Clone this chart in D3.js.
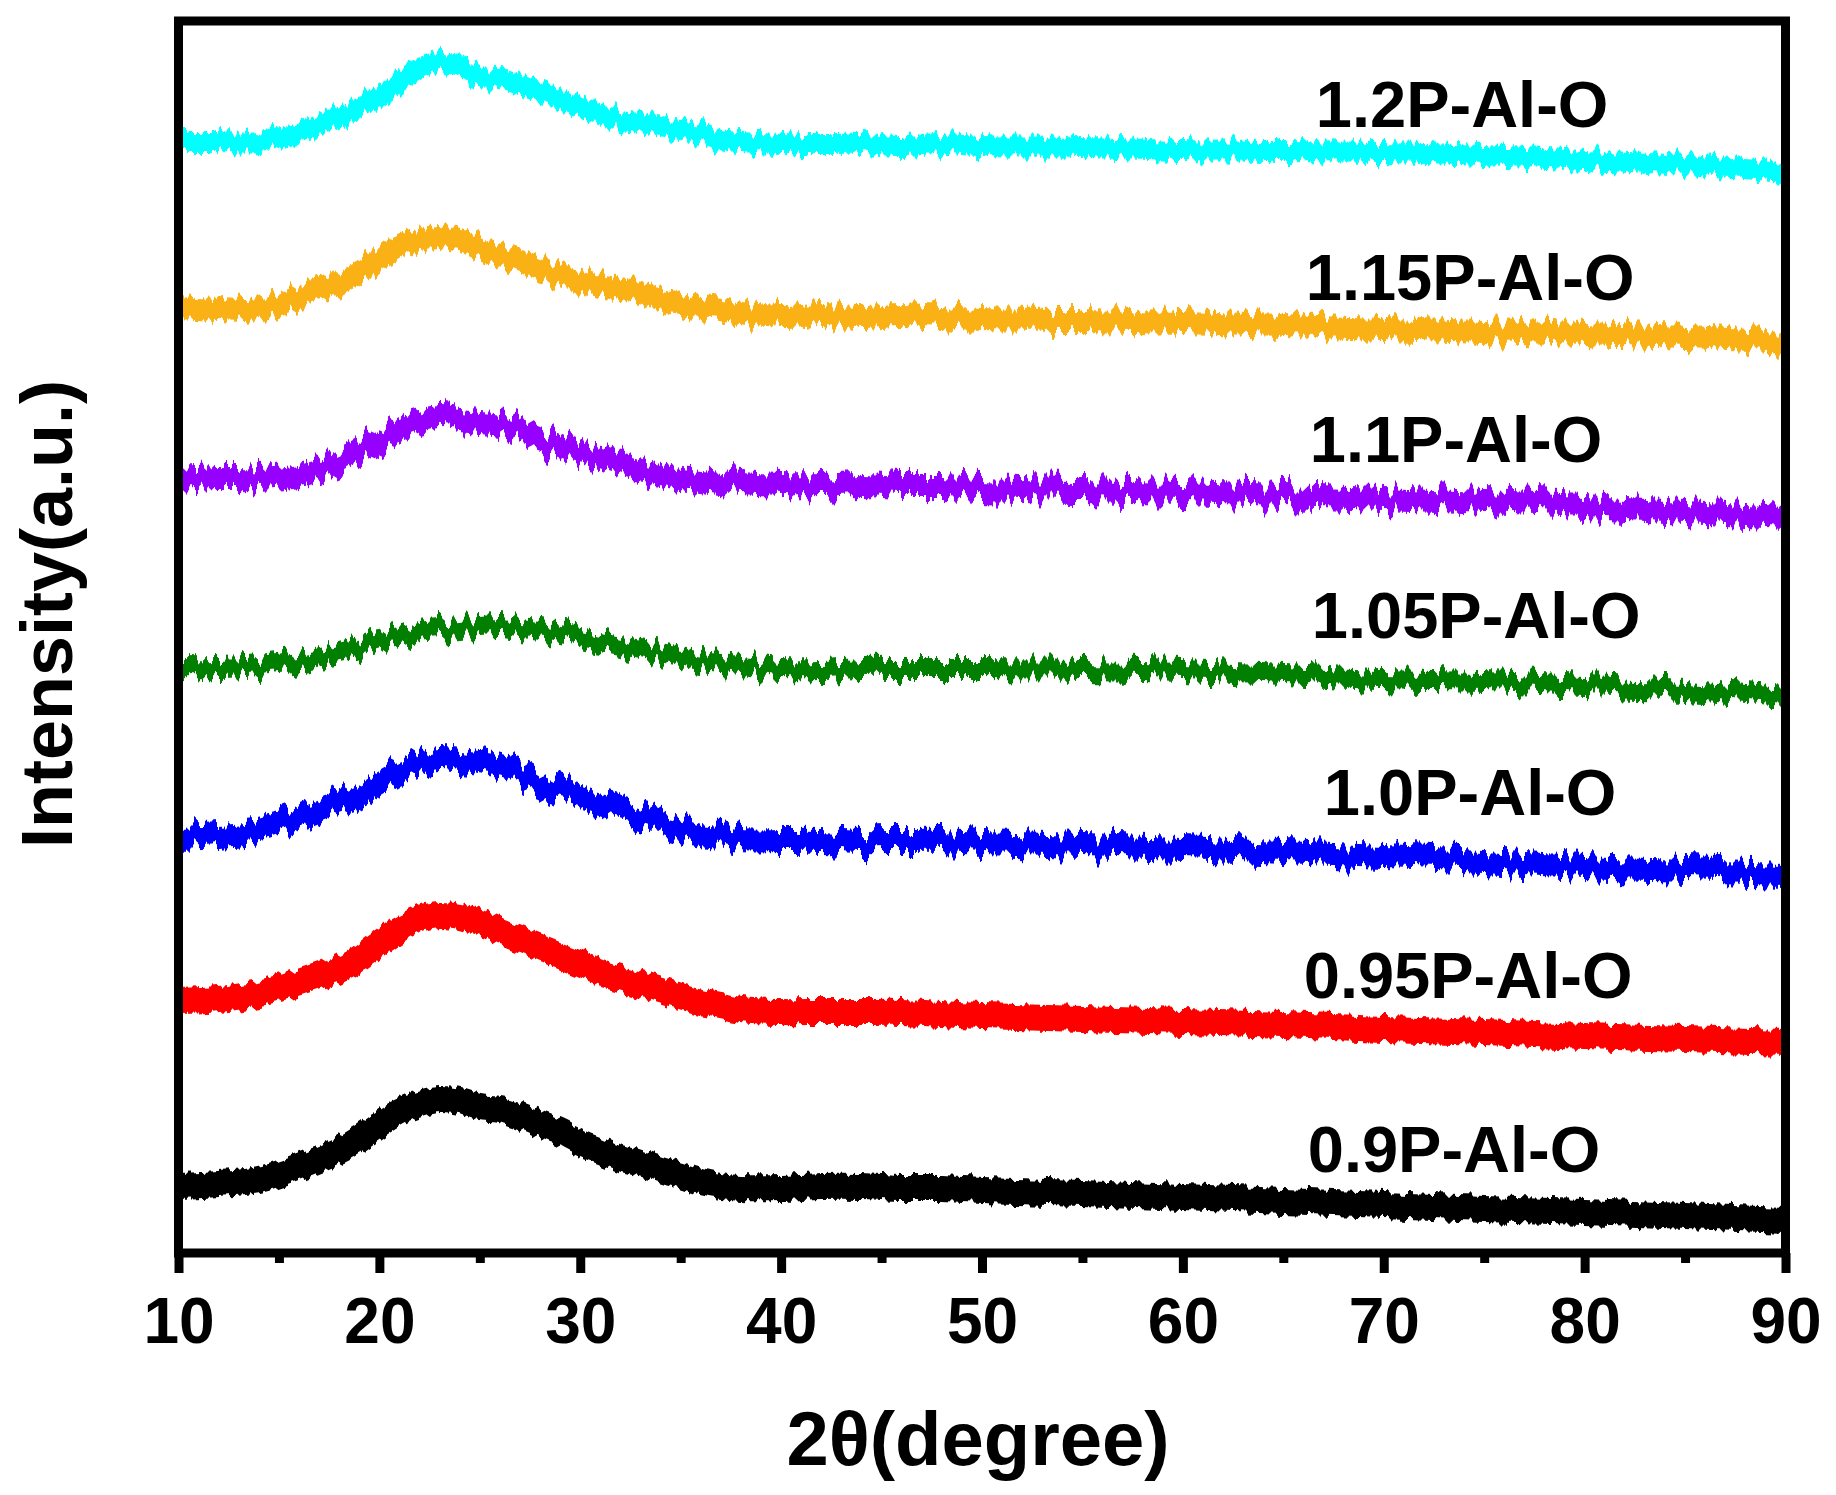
<!DOCTYPE html>
<html>
<head>
<meta charset="utf-8">
<script src="https://cdn.jsdelivr.net/npm/d3@7/dist/d3.min.js"></script>
<style>
    body { margin: 0; background: #fff; }
    text { font-family: Arial, "Liberation Sans", sans-serif; font-weight: bold; fill: #000; }
</style>
</head>
<body>
<div id="chart"></div>
<script>
const twoTheta = [10, 12, 14, 16, 18, 19, 20, 21, 22, 23, 24, 25, 26, 27, 28, 29, 30, 31, 32, 33, 34, 35, 36, 37, 38,
    40, 42, 44, 46, 48, 50, 55, 60, 65, 70, 75, 80, 85, 90];

// intensities (a.u., curves already stacked)
const int120 = [1111, 1111, 1111, 1121, 1136, 1146, 1156, 1171, 1185, 1191, 1187, 1175, 1175, 1169, 1161, 1153, 1147, 1139, 1133, 1131, 1127, 1123, 1121, 1113, 1111,
    1109, 1109, 1109, 1107, 1109, 1107, 1106, 1103, 1102, 1101, 1098, 1093, 1088, 1081];
const int115 = [945, 943, 943, 956, 971, 981, 994, 1007, 1013, 1016, 1013, 1004, 998, 992, 984, 978, 972, 968, 964, 960, 954, 950, 946, 944, 940,
    936, 938, 936, 938, 936, 934, 933, 931, 928, 925, 922, 919, 916, 911];
const int110 = [773, 775, 775, 779, 791, 801, 812, 823, 831, 835, 833, 831, 829, 823, 815, 807, 799, 795, 789, 783, 779, 775, 773, 771, 769,
    767, 767, 769, 767, 767, 765, 763, 761, 758, 755, 751, 747, 742, 737];
const int105 = [585, 585, 587, 592, 600, 605, 611, 615, 621, 623, 625, 626, 627, 625, 623, 619, 615, 611, 607, 603, 599, 595, 591, 589, 587,
    583, 583, 585, 585, 585, 585, 584, 582, 578, 574, 572, 568, 564, 557];
const int100 = [416, 418, 422, 435, 451, 459, 470, 482, 490, 494, 492, 490, 486, 480, 470, 462, 456, 450, 444, 438, 432, 426, 420, 418, 414,
    414, 414, 412, 412, 412, 410, 407, 404, 400, 396, 392, 387, 384, 381];
const int095 = [251, 253, 259, 270, 284, 295, 310, 324, 334, 338, 336, 330, 322, 314, 306, 298, 290, 281, 275, 269, 263, 257, 251, 247, 243,
    241, 241, 241, 241, 239, 237, 234, 231, 228, 224, 221, 217, 214, 211];
const int090 = [67, 69, 73, 86, 103, 115, 129, 141, 149, 153, 151, 145, 143, 137, 129, 121, 111, 103, 95, 89, 83, 77, 71, 67, 65,
    65, 67, 67, 65, 65, 63, 60, 56, 52, 48, 44, 41, 37, 33];

const sampleNames = ["1.2P-Al-O", "1.15P-Al-O", "1.1P-Al-O", "1.05P-Al-O", "1.0P-Al-O", "0.95P-Al-O", "0.9P-Al-O"];
const sampleColors = ["#00FFFF", "#F9B116", "#9500FF", "#007F00", "#0000FF", "#FF0000", "#000000"];
// where each name sits (degree, a.u.)
const labelTheta = [73.9, 74.3, 73.6, 74.6, 74.3, 74.2, 73.5];
const labelInt = [1126, 953, 791, 615, 438, 255, 81];

const xMajorTicks = [10, 20, 30, 40, 50, 60, 70, 80, 90];
const xMinorTicks = [15, 25, 35, 45, 55, 65, 75, 85];

const width = 1836, height = 1495;
const plotLeft = 178.5, plotRight = 1785.5, plotTop = 21, plotBottom = 1253;
const frameWidth = 9;

const allSeries = [int120, int115, int110, int105, int100, int095, int090];

const svg = d3.select("#chart")
    .append("svg")
    .attr("width", width)
    .attr("height", height);

// Scales
const xScale = d3.scaleLinear().domain([10, 90]).range([plotLeft, plotRight]);
const yScale = d3.scaleLinear().domain([0, 1232]).range([plotBottom, plotTop]);

// noise texture for the scans (vertical jitter only)
const defs = svg.append("defs");
const noiseAmp = [24, 24, 34, 30, 30, 12, 12];
sampleNames.forEach((name, i) => {
    const f = defs.append("filter")
        .attr("id", "noise" + i)
        .attr("x", "-2%").attr("y", "-50%")
        .attr("width", "104%").attr("height", "200%")
        .attr("color-interpolation-filters", "sRGB");
    f.append("feTurbulence")
        .attr("type", "fractalNoise")
        .attr("baseFrequency", "0.16 0.0005")
        .attr("numOctaves", 3)
        .attr("seed", i * 7 + 3)
        .attr("result", "turb");
    f.append("feColorMatrix")
        .attr("in", "turb")
        .attr("type", "matrix")
        .attr("values", "0 0 0 0 0.5  0 1 0 0 0  0 0 1 0 0  0 0 0 0 1")
        .attr("result", "map");
    f.append("feDisplacementMap")
        .attr("in", "SourceGraphic")
        .attr("in2", "map")
        .attr("scale", noiseAmp[i])
        .attr("xChannelSelector", "R")
        .attr("yChannelSelector", "G");
});

defs.append("clipPath")
    .attr("id", "plotClip")
    .append("rect")
    .attr("x", plotLeft)
    .attr("y", plotTop)
    .attr("width", plotRight - plotLeft)
    .attr("height", plotBottom - plotTop);

// Line generator
const line = d3.line()
    .x(d => xScale(d.x))
    .y(d => yScale(d.y))
    .curve(d3.curveCatmullRom.alpha(0.5));

const strokeWidths = [20, 22, 22, 18, 22, 26, 26];

const traces = svg.append("g").attr("clip-path", "url(#plotClip)");
allSeries.forEach((vals, i) => {
    const pts = twoTheta.map((t, j) => ({ x: t, y: vals[j] }));
    traces.append("path")
        .attr("d", line(pts))
        .attr("fill", "none")
        .attr("stroke", sampleColors[i])
        .attr("stroke-width", strokeWidths[i])
        .attr("stroke-linejoin", "round")
        .attr("filter", `url(#noise${i})`);
});

// sample names
svg.append("g").selectAll("text")
    .data(sampleNames)
    .enter()
    .append("text")
    .attr("x", (d, i) => xScale(labelTheta[i]))
    .attr("y", (d, i) => yScale(labelInt[i]))
    .attr("text-anchor", "middle")
    .style("font-size", "65px")
    .text(d => d);

// x axis: major ticks with labels
const xAxis = d3.axisBottom(xScale)
    .tickValues(xMajorTicks)
    .tickSize(20)
    .tickFormat(d3.format("d"));
const gx = svg.append("g")
    .attr("transform", `translate(0, ${plotBottom})`)
    .call(xAxis);
gx.select(".domain").remove();
gx.selectAll(".tick line")
    .attr("stroke", "#000")
    .attr("stroke-width", frameWidth);
gx.selectAll(".tick text")
    .attr("y", 90)
    .attr("dy", null)
    .style("font-size", "64px")
    .style("font-family", "Arial, 'Liberation Sans', sans-serif")
    .style("font-weight", "bold")
    .attr("fill", "#000");

// minor ticks
const xMinor = d3.axisBottom(xScale)
    .tickValues(xMinorTicks)
    .tickSize(10)
    .tickFormat("");
const gxm = svg.append("g")
    .attr("transform", `translate(0, ${plotBottom})`)
    .call(xMinor);
gxm.select(".domain").remove();
gxm.selectAll(".tick line")
    .attr("stroke", "#000")
    .attr("stroke-width", frameWidth);

// frame
svg.append("rect")
    .attr("x", plotLeft)
    .attr("y", plotTop)
    .attr("width", plotRight - plotLeft)
    .attr("height", plotBottom - plotTop)
    .attr("fill", "none")
    .attr("stroke", "#000")
    .attr("stroke-width", frameWidth);

// axis titles
svg.append("text")
    .attr("x", (plotLeft + plotRight) / 2 - 4)
    .attr("y", 1465)
    .attr("text-anchor", "middle")
    .style("font-size", "76px")
    .text("2θ(degree)");

svg.append("text")
    .attr("transform", "translate(72, 614) rotate(-90)")
    .attr("text-anchor", "middle")
    .style("font-size", "72px")
    .text("Intensity(a.u.)");
</script>
</body>
</html>
